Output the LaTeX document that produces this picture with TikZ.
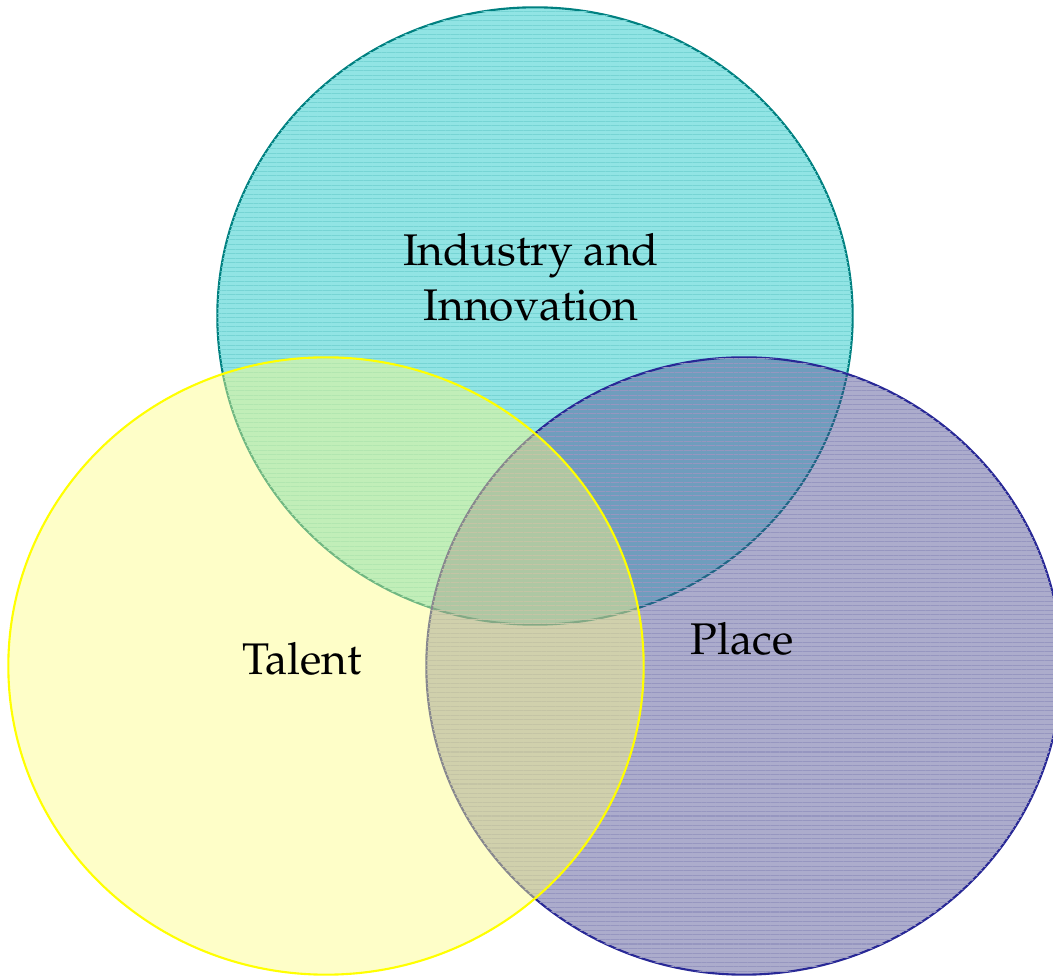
\documentclass[tikz,border=0pt]{standalone}
\usepackage[T1]{fontenc}
\usepackage{mathpazo}
\usetikzlibrary{shapes.geometric,patterns.meta}
\definecolor{indfill}{RGB}{11,195,195}
\definecolor{indline}{RGB}{0,128,128}
\definecolor{indhatch}{RGB}{118,212,212}
\definecolor{plcfill}{RGB}{71,71,142}
\definecolor{plcline}{RGB}{40,40,150}
\definecolor{plchatch}{RGB}{150,150,192}
\definecolor{talfill}{RGB}{252,252,133}
\definecolor{talline}{RGB}{255,255,0}
\tikzstyle{venn}=[shape=ellipse,
	          minimum width=6.35cm,
	          minimum height=6.17cm,
	          fill opacity=0.45,
	          line width=0.6pt]
\tikzstyle{hatch}=[pattern={Lines[angle=0,distance=1.3pt,line width=0.3pt]}]
\tikzstyle{lbl}=[font=\fontsize{12.6}{15.9}\selectfont,
	         align=center,
	         anchor=base]

\begin{document}
\begin{tikzpicture}[x=0.01cm,y=-0.01cm]
\useasboundingbox (0,0) rectangle (1053,976);

% three overlapping circles, drawn back to front
\node[venn, fill=indfill, draw=indline,
      postaction={hatch, pattern color=indhatch}]
      (industry) at (535,316) {};
\node[venn, fill=plcfill, draw=plcline,
      postaction={hatch, pattern color=plchatch}]
      (place) at (744,666) {};
\node[venn, fill=talfill, draw=talline] (talent) at (326,666) {};

% labels
\node[lbl] (industrytext) at (531,321) {Industry and\\Innovation};
\node[lbl] (talenttext) at (302,675) {Talent};
\node[lbl] (placetext) at (742,655) {Place};

\end{tikzpicture}
\end{document}
